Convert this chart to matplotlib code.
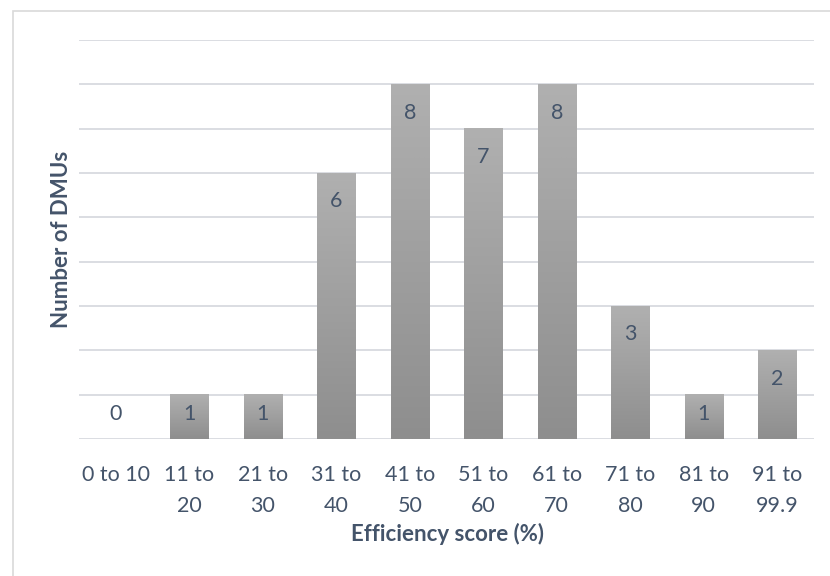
import matplotlib
matplotlib.use("Agg")
import matplotlib.pyplot as plt
import numpy as np
from matplotlib.colors import LinearSegmentedColormap
from matplotlib.patches import Rectangle

categories = ["0 to 10", "11 to\n20", "21 to\n30", "31 to\n40", "41 to\n50",
              "51 to\n60", "61 to\n70", "71 to\n80", "81 to\n90", "91 to\n99.9"]
counts = [0, 1, 1, 6, 8, 7, 8, 3, 1, 2]
x_title = "Efficiency score (%)"
y_title = "Number of DMUs"

text_color = "#44546a"
grid_color = "#dadde2"
plt.rcParams['font.family'] = ['Lato', 'DejaVu Sans']

fig = plt.figure(figsize=(8.30, 5.76), dpi=100)
ax = fig.add_axes([79/830, 1 - 439/576, (814-79)/830, (439-40)/576])

x = np.arange(len(counts))
bars = ax.bar(x, counts, width=0.52, color='none', edgecolor='none', zorder=3)

cmap = LinearSegmentedColormap.from_list("g", ["#8e8e8e", "#b0b0b0"])
grad = np.linspace(0, 1, 256).reshape(-1, 1)
for b in bars:
    h = b.get_height()
    if h <= 0:
        continue
    x0 = b.get_x()
    w = b.get_width()
    ax.imshow(grad, cmap=cmap, origin='lower', aspect='auto',
              extent=[x0, x0 + w, 0, h], zorder=3, interpolation='bilinear')

ax.set_xlim(-0.5, len(counts) - 0.5)
ax.set_ylim(0, 9)
ax.set_yticks(np.arange(0, 10, 1))
ax.set_yticklabels([])
ax.tick_params(axis='y', length=0)
ax.grid(axis='y', color=grid_color, linewidth=1.4, zorder=0)
ax.set_axisbelow(True)
for s in ax.spines.values():
    s.set_visible(False)

ax.set_xticks(x)
ax.set_xticklabels(categories, fontsize=15.5, color=text_color, linespacing=1.65)
ax.tick_params(axis='x', length=0, pad=19)

for xi, v in zip(x, counts):
    ypos = max(v - 0.64, 0.57)
    ax.text(xi, ypos, str(v), ha='center', va='center', fontsize=15.5,
            color=text_color, zorder=5)

fig.text(62/830, 1 - 239/576, y_title, rotation=90, ha='center', va='center',
         fontsize=16, fontweight='bold', color=text_color)
fig.text(447/830, 1 - 534/576, x_title, ha='center', va='center',
         fontsize=16, fontweight='bold', color=text_color)

fig.patches.append(Rectangle((12.5/830, -0.1), 1.2, 1.1 - 11/576,
                             transform=fig.transFigure, fill=False,
                             edgecolor='#d9d9d9', linewidth=1.2))

fig.savefig("out.png", dpi=100)
